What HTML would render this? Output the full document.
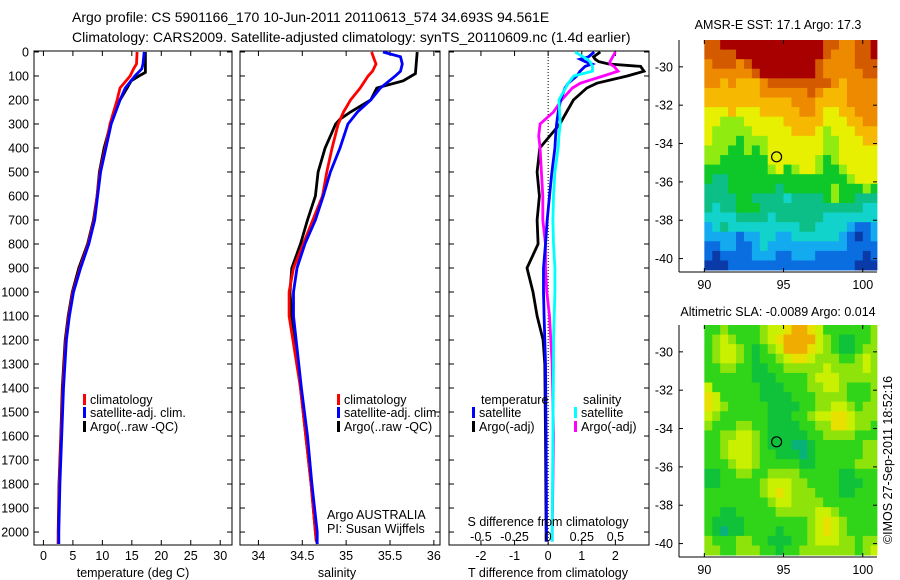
<!DOCTYPE html>
<html><head><meta charset="utf-8"><style>
html,body{margin:0;padding:0;background:#fff;}
svg{display:block;font-family:"Liberation Sans",sans-serif;}
</style></head><body>
<svg id="c" width="900" height="580" viewBox="0 0 900 580" xmlns="http://www.w3.org/2000/svg">
<text x="72" y="22" font-size="14">Argo profile: CS 5901166_170 10-Jun-2011 20110613_574 34.693S 94.561E</text>
<text x="72" y="42" font-size="14">Climatology: CARS2009. Satellite-adjusted climatology: synTS_20110609.nc (1.4d earlier)</text>
<text x="778" y="29" font-size="12.5" text-anchor="middle">AMSR-E SST: 17.1 Argo: 17.3</text>
<text x="778" y="316" font-size="12.5" text-anchor="middle">Altimetric SLA: -0.0089 Argo: 0.014</text>
<text transform="translate(892,460) rotate(-90)" font-size="12.5" text-anchor="middle">©IMOS 27-Sep-2011 18:52:16</text>
<g id="g"></g>
</svg>
<script>
// ---- profile data (depth in m) ----
const tDepth = [0,50,70,100,150,200,300,400,500,600,700,800,900,1000,1100,1200,1400,1600,1800,2000,2050];
const tClim  = [15.9,15.8,15.3,14.7,13.0,12.5,11.3,10.5,9.6,9.1,8.6,7.6,6.2,5.0,4.3,3.8,3.3,3.0,2.7,2.55,2.5];
const tSat   = [17.1,16.9,16.7,15.5,13.9,13.0,11.5,10.6,9.7,9.2,8.7,7.7,6.3,5.1,4.4,3.9,3.4,3.1,2.8,2.6,2.6];
const argoDepth = [0,85,100,120,150,200,300,400,500,600,700,800,900,1000,1100,1200,1400,1600,1800,2000,2050];
const tArgo  = [17.3,17.3,16.2,14.9,14.2,13.0,11.4,10.3,9.5,9.1,8.5,7.5,6.0,4.9,4.2,3.7,3.2,2.95,2.65,2.5,2.5];
const sDepth = [0,20,50,80,100,150,200,250,300,400,500,600,700,800,900,1000,1100,1400,1600,1800,2000,2050];
const sClim  = [35.29,35.31,35.34,35.30,35.25,35.16,35.05,34.97,34.91,34.84,34.78,34.73,34.62,34.51,34.40,34.35,34.35,34.48,34.54,34.60,34.65,34.67];
const sSat   = [35.42,35.62,35.64,35.62,35.56,35.39,35.28,35.13,35.02,34.93,34.82,34.74,34.65,34.53,34.44,34.40,34.40,34.49,34.56,34.61,34.67,34.67];
const sArgoDepth = [0,90,120,150,200,250,280,300,350,400,500,600,700,800,900,1000,1100,1400,1600,1800,2000,2040];
const sArgo  = [35.81,35.79,35.65,35.35,35.28,35.05,34.93,34.88,34.82,34.76,34.68,34.65,34.56,34.48,34.38,34.36,34.38,34.48,34.54,34.60,34.65,34.66];
const dDepth = [0,20,30,40,50,60,80,100,130,150,200,250,300,350,400,500,600,700,800,900,1000,1100,1200,1300,1600,2000,2040];
const dTSat  = [1.37,1.2,0.95,1.1,1.3,1.1,0.95,0.85,0.6,0.5,0.37,0.3,0.25,0.22,0.2,0.11,0.04,-0.03,-0.08,-0.14,-0.14,-0.12,-0.1,-0.08,-0.06,-0.05,-0.05];
const dTArgo = [1.55,1.35,1.4,1.5,1.8,2.75,2.85,2.35,1.45,1.15,0.75,0.55,0.35,0.05,-0.25,-0.33,-0.26,-0.33,-0.3,-0.63,-0.45,-0.33,-0.15,-0.1,-0.08,-0.06,-0.06];
const dSSat  = [0.2,0.26,0.29,0.31,0.32,0.33,0.33,0.19,0.15,0.13,0.08,0.085,0.09,0.08,0.075,0.05,0.04,0.035,0.04,0.05,0.05,0.045,0.04,0.04,0.035,0.03,0.03];
const dSArgo = [0.5,0.48,0.47,0.46,0.46,0.49,0.52,0.41,0.24,0.18,0.1,0.04,-0.06,-0.07,-0.06,-0.05,-0.04,-0.04,-0.02,-0.02,-0.01,0.01,0.02,0.03,0.04,0.03,0.03];
const depthTicks = [0,100,200,300,400,500,600,700,800,900,1000,1100,1200,1300,1400,1500,1600,1700,1800,1900,2000];
const tTicks = [0,5,10,15,20,25,30];
const sTicks = [34,34.5,35,35.5,36];
const dTTicks = [-2,-1,0,1,2];
const dSTickLabels = ["-0.5","-0.25","0","0.25","0.5"];
const dSTicks = [-0.5,-0.25,0,0.25,0.5];
// ---- map data (0.5 deg cells from 90E, rows from 28.6S southward) ----
const mapLon0 = 90, mapLat0 = -28.6, mapCell = 0.5;
const sstRows = [
"AABBBBBBBBBBBBBAA99AAB","AAAABBBBBBBBBBBA999AAB","9AAA9ABBBBBBBBA9999AAA","999999ABBBBBBBA99999AA",
"99898889AAAAAAAA989999A".slice(0,22),"8888888999999A988899 9A".replace(' ','9').slice(0,22),"8888888888899988889999","7778777888889987788999",
"7766677777888887778899","7666667777788876777888","7666566677777776677788","6665565677777776677777",
"6655555577777765677777","5555555567567765567777","5445555555555555556777","4445555554555555655565",
"4444554444344445655444","4344555444444444444433","3333444434444443333333","2343333333334433332112",
"2222122332233333321012","1122112322222222221111","1011112221122211111101","0001111111111111111000"];
const slaRows = [
"2232222344566542222223","2343222345666643211223","2344321234666543211233","2344321223455433322343",
"2233221122333334333343","2222221112222344433333","4222222111222334432223","5422222111122233332223",
"5432222211112233443233","4322222211122344554333","3222332211112233554332","2233443211111223333222",
"2234443211100122222233","2234443221110122222233","2223443222221122222333","1122332233332222211222",
"1122222344433222211122","2222222345433322211222","2222222234433332222222","2211222223333344322222",
"2111122222222345432222","2101122221222345432222","3222332211122344433233","3322333221223333333234"];
const sstColors = {"0":"#0a3aa8","1":"#0a6ee0","2":"#14aaf0","3":"#12d2cc","4":"#0cbf86","5":"#0ec82a","6":"#90ec10","7":"#e6f000","8":"#f6b800","9":"#ee8a00","A":"#d45a00","B":"#a80000"};
const slaColors = {"0":"#08b27a","1":"#10c23a","2":"#30d418","3":"#8ee40a","4":"#c8f000","5":"#e8e000","6":"#f0ac00"};
const argoLon = 94.561, argoLat = -34.693;

const NS="http://www.w3.org/2000/svg";
const G=document.getElementById('g');
function el(tag,attrs,parent){const e=document.createElementNS(NS,tag);for(const k in attrs)e.setAttribute(k,attrs[k]);(parent||G).appendChild(e);return e;}
function lin(d0,d1,r0,r1){return v=>r0+(v-d0)*(r1-r0)/(d1-d0);}
const Y0=51,Y1=545;
const yD=lin(-4,2054,Y0,Y1);

function panel(name,x0,x1,xs,ticks,labels,showDepth){
  const g=el('g',{});
  
  
  const r=el('rect',{x:x0,y:Y0,width:x1-x0,height:Y1-Y0,fill:'none',stroke:'#000','stroke-width':1},g);
  
  
  depthTicks.forEach(d=>{
    const y=yD(d);
    el('line',{x1:x0,x2:x0+5,y1:y,y2:y,stroke:'#000'},g);
    el('line',{x1:x1,x2:x1-5,y1:y,y2:y,stroke:'#000'},g);
    if(showDepth){const t=el('text',{x:29,y:y+4.5,'font-size':12.5,'text-anchor':'end'},g);t.textContent=d;
      
      }
  });
  ticks.forEach((v,i)=>{
    const x=xs(v);
    el('line',{x1:x,x2:x,y1:Y1,y2:Y1-5,stroke:'#000'},g);
    el('line',{x1:x,x2:x,y1:Y0,y2:Y0+5,stroke:'#000'},g);
    if(labels){const t=el('text',{x:x,y:560,'font-size':12.5,'text-anchor':'middle'},g);t.textContent=labels[i];
      
      }
  });
  return g;
}
function line(g,xs,vals,depths,color,name){
  const pts=vals.map((v,i)=>xs(v).toFixed(1)+','+yD(depths[i]).toFixed(1)).join(' ');
  const p=el('polyline',{points:pts,fill:'none',stroke:color,'stroke-width':2.8,'stroke-linejoin':'miter'},g);
  
  
}
function txt(x,y,s,name,anchor){const t=el('text',{x:x,y:y,'font-size':12.5,'text-anchor':anchor||'start'});t.textContent=s;
  
  return t;}
function legend(x,y,color,label,name){
  const r=el('rect',{x:x,y:y-10,width:3,height:11,fill:color});
  
  
  txt(x+7,y,label,name);
}

// Panel 1: temperature
const xT=lin(-1.6,32,34,232);
const p1=panel('temperature-panel',34,232,xT,tTicks,tTicks,true);
line(p1,xT,tArgo,argoDepth,'#000','argo-temperature-line');
line(p1,xT,tClim,tDepth,'#f00','climatology-temperature-line');
line(p1,xT,tSat,tDepth,'#00f','satellite-temperature-line');
txt(133,577,'temperature (deg C)','temperature-axis-title','middle');
legend(83,404,'#f00','climatology','legend-climatology');
legend(83,417,'#00f','satellite-adj. clim.','legend-satellite');
legend(83,431,'#000','Argo(..raw -QC)','legend-argo');

// Panel 2: salinity
const xS=lin(33.79,36.07,240,440);
const p2=panel('salinity-panel',240,440,xS,sTicks,sTicks,false);
line(p2,xS,sArgo,sArgoDepth,'#000','argo-salinity-line');
line(p2,xS,sClim,sDepth,'#f00','climatology-salinity-line');
line(p2,xS,sSat,sDepth,'#00f','satellite-salinity-line');
txt(337,577,'salinity','salinity-axis-title','middle');
legend(337,404,'#f00','climatology','legend2-climatology');
legend(337,417,'#00f','satellite-adj. clim.','legend2-satellite');
legend(337,431,'#000','Argo(..raw -QC)','legend2-argo');
txt(327,519,'Argo AUSTRALIA','float-agency-label');
txt(327,533,'PI: Susan Wijffels','pi-label');

// Panel 3: differences
const xDT=lin(-2.95,3.0,449,649);
const xDS=lin(-0.7375,0.75,449,649);
const p3=panel('difference-panel',449,649,xDT,dTTicks,dTTicks,false);
const zl=el('line',{x1:xDT(0),x2:xDT(0),y1:Y0,y2:Y1,stroke:'#000','stroke-dasharray':'1,2'},p3);


line(p3,xDT,dTArgo,dDepth,'#000','argo-temp-diff-line');
line(p3,xDS,dSArgo,dDepth,'#f0f','argo-sal-diff-line');
line(p3,xDT,dTSat,dDepth,'#00f','satellite-temp-diff-line');
line(p3,xDS,dSSat,dDepth,'#0ff','satellite-sal-diff-line');
dSTicks.forEach((v,i)=>{const t=txt(xDS(v),541,dSTickLabels[i],'s-diff-tick-label','middle');});
txt(548,526,'S difference from climatology','s-diff-axis-title','middle');
txt(548,577,'T difference from climatology','t-diff-axis-title','middle');
txt(481,404,'temperature','legend3-temperature-heading');
txt(583,404,'salinity','legend3-salinity-heading');
legend(472,417,'#00f','satellite','legend3-temp-satellite');
legend(472,431,'#000','Argo(-adj)','legend3-temp-argo');
legend(574,417,'#0ff','satellite','legend3-sal-satellite');
legend(574,431,'#f0f','Argo(-adj)','legend3-sal-argo');

// Maps
function map(name,top,rows,colors){
  const L=679,R=877,B=top+232;
  const xL=lin(88.4,100.9,L,R), yL=lin(-28.6,-40.7,top,B);
  const g=el('g',{});
  
  
  rows.forEach((row,ri)=>{
    for(let ci=0;ci<22;ci++){
      const c=row[ci]; if(!(c in colors)) continue;
      const lon=mapLon0+ci*mapCell, lat=mapLat0-ri*mapCell;
      const x=xL(lon), y=yL(lat);
      const w=Math.min(xL(lon+mapCell),R)-x, h=Math.min(yL(lat-mapCell),B)-y;
      const r=el('rect',{x:x,y:y,width:w+0.4,height:h+0.4,fill:colors[c]},g);
      
      
    }
  });
  el('line',{x1:L,x2:L,y1:top,y2:B,stroke:'#000'},g);
  el('line',{x1:L,x2:R,y1:B,y2:B,stroke:'#000'},g);
  [-30,-32,-34,-36,-38,-40].forEach(v=>{
    const y=yL(v);
    el('line',{x1:L,x2:L+4,y1:y,y2:y,stroke:'#000'},g);
    el('line',{x1:R,x2:R-4,y1:y,y2:y,stroke:'#000'},g);
    const t=el('text',{x:673,y:y+4.5,'font-size':12.5,'text-anchor':'end'},g);t.textContent=v;
    
    
  });
  [90,95,100].forEach(v=>{
    const x=xL(v);
    el('line',{x1:x,x2:x,y1:B,y2:B-4,stroke:'#000'},g);
    el('line',{x1:x,x2:x,y1:top,y2:top+4,stroke:'#000'},g);
    const t=el('text',{x:x,y:B+17,'font-size':12.5,'text-anchor':'middle'},g);t.textContent=v;
    
    
  });
  const c=el('circle',{cx:xL(argoLon),cy:yL(argoLat),r:5,fill:'none',stroke:'#000','stroke-width':1.2},g);
  
  
}
map('sst-map',40,sstRows,sstColors);
map('sla-map',325,slaRows,slaColors);
</script>
</body></html>
